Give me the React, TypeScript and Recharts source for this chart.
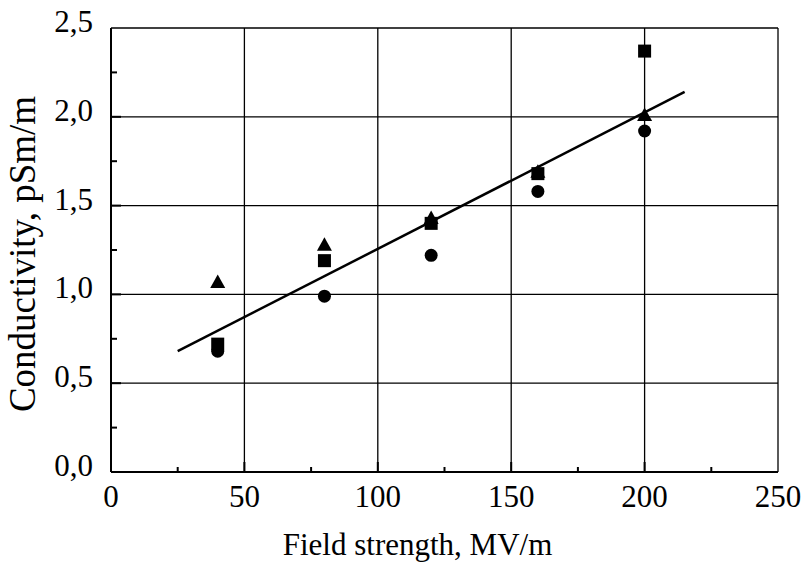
import React from 'react';
import { ScatterChart, Scatter, XAxis, YAxis, CartesianGrid, Label } from 'recharts';

const fieldStrength = [40, 80, 120, 160, 200];
const circleSeries = [0.68, 0.99, 1.22, 1.58, 1.92];
const squareSeries = [0.72, 1.19, 1.40, 1.68, 2.37];
const triangleSeries = [1.07, 1.28, 1.43, 1.69, 2.01];
const trendX = [25, 215];
const trendY = [0.68, 2.14];

const xTicks = [0, 25, 50, 75, 100, 125, 150, 175, 200, 225, 250];
const xMajor = [0, 50, 100, 150, 200, 250];
const yTicks = [0, 0.25, 0.5, 0.75, 1, 1.25, 1.5, 1.75, 2, 2.25, 2.5];
const yMajor = [0, 0.5, 1, 1.5, 2, 2.5];

const FONT = "'Liberation Serif'";
const textStyle = { fontFamily: FONT };

const toPts = (xs: number[], ys: number[]) => xs.map((x, i) => ({ x, y: ys[i] }));
const circleData = toPts(fieldStrength, circleSeries);
const squareData = toPts(fieldStrength, squareSeries);
const triangleData = toPts(fieldStrength, triangleSeries);
const trendData = toPts(trendX, trendY);

const fmtY = (v: number) => v.toFixed(1).replace('.', ',');

const YTick = (props: any) => {
  const { x, y, payload } = props;
  const v = payload.value as number;
  const major = yMajor.some((m) => Math.abs(m - v) < 1e-9);
  const len = major ? 10 : 6;
  return (
    <g>
      {v > 0 && v < 2.5 && (
        <line x1={x} x2={x + len} y1={y} y2={y} stroke="#000" strokeWidth={2} />
      )}
      {major && (
        <text x={x - 18} y={y + 4} textAnchor="end" style={textStyle} fontSize={31} fill="#000">
          {fmtY(v)}
        </text>
      )}
    </g>
  );
};

const XTick = (props: any) => {
  const { x, y, payload } = props;
  const v = payload.value as number;
  const major = xMajor.includes(v);
  const len = major ? 10 : 5;
  return (
    <g>
      {v > 0 && v < 250 && (
        <line x1={x} x2={x} y1={y} y2={y - len} stroke="#000" strokeWidth={2} />
      )}
      {major && (
        <text x={x} y={y + 35} textAnchor="middle" style={textStyle} fontSize={31} fill="#000">
          {String(v)}
        </text>
      )}
    </g>
  );
};

const Circle = (p: any) => <circle cx={p.cx} cy={p.cy} r={6.5} fill="#000" />;
const Square = (p: any) => (
  <rect x={p.cx - 6.5} y={p.cy - 6.5} width={13} height={13} fill="#000" />
);
const Triangle = (p: any) => (
  <polygon
    points={`${p.cx},${p.cy - 7.5} ${p.cx - 7.5},${p.cy + 6} ${p.cx + 7.5},${p.cy + 6}`}
    fill="#000"
  />
);
const NoShape = () => <g />;

export default function App() {
  return (
    <div style={{ position: 'absolute', left: 0, top: 0, width: 803, height: 567, background: '#fff', fontFamily: FONT }}>
      <ScatterChart width={803} height={567} margin={{ top: 28, right: 25, bottom: 0, left: 0 }} style={textStyle}>
        <CartesianGrid
          stroke="#000"
          strokeWidth={1.3}
          horizontalValues={yMajor}
          verticalValues={xMajor}
        />
        <XAxis
          type="number"
          dataKey="x"
          domain={[0, 250]}
          ticks={xTicks}
          interval={0}
          height={95}
          tickSize={0}
          tickMargin={0}
          tickLine={false}
          axisLine={{ stroke: '#000', strokeWidth: 2 }}
          tick={<XTick />}
        >
          <Label
            content={(props: any) => {
              const vb = props.viewBox || {};
              return (
                <text
                  x={vb.x + vb.width / 2 - 27}
                  y={555}
                  textAnchor="middle"
                  style={textStyle}
                  fontSize={31}
                  fill="#000"
                >
                  Field strength, MV/m
                </text>
              );
            }}
          />
        </XAxis>
        <YAxis
          type="number"
          dataKey="y"
          domain={[0, 2.5]}
          ticks={yTicks}
          interval={0}
          width={111}
          tickSize={0}
          tickMargin={0}
          tickLine={false}
          axisLine={{ stroke: '#000', strokeWidth: 2 }}
          tick={<YTick />}
        >
          <Label
            content={(props: any) => {
              const vb = props.viewBox || {};
              const cx = (vb.x || 0) + 35;
              const cy = (vb.y || 0) + (vb.height || 0) / 2 + 4;
              return (
                <text
                  x={cx}
                  y={cy}
                  transform={`rotate(-90, ${cx}, ${cy})`}
                  textAnchor="middle"
                  style={textStyle}
                  fontSize={37}
                  fill="#000"
                >
                  Conductivity, pSm/m
                </text>
              );
            }}
          />
        </YAxis>
        <Scatter
          data={trendData}
          line={{ stroke: '#000', strokeWidth: 2.5 }}
          shape={<NoShape />}
          isAnimationActive={false}
        />
        <Scatter data={circleData} shape={<Circle />} isAnimationActive={false} />
        <Scatter data={squareData} shape={<Square />} isAnimationActive={false} />
        <Scatter data={triangleData} shape={<Triangle />} isAnimationActive={false} />
      </ScatterChart>
    </div>
  );
}
